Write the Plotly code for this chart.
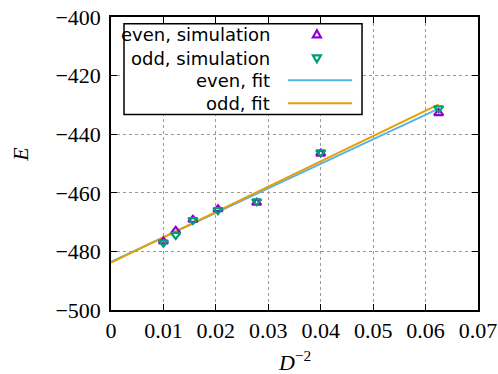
import plotly.graph_objects as go

# Data
x_sim = [0.01, 0.012346, 0.015625, 0.020408, 0.027778, 0.04, 0.0625]
even_sim = [-476.6, -473.0, -469.2, -465.6, -463.4, -446.6, -432.8]
odd_sim = [-477.0, -474.4, -469.3, -465.9, -462.9, -446.2, -431.2]
fit_x = [0.0, 0.0625]
even_fit = [-483.6, -431.3]
odd_fit = [-483.8, -429.8]
x_ticks = [0, 0.01, 0.02, 0.03, 0.04, 0.05, 0.06, 0.07]
x_tick_text = ["0", "0.01", "0.02", "0.03", "0.04", "0.05", "0.06", "0.07"]
y_ticks = [-500, -480, -460, -440, -420, -400]
y_tick_text = ["\u2212500", "\u2212480", "\u2212460", "\u2212440", "\u2212420", "\u2212400"]
legend_labels = ["even, simulation", "odd, simulation", "even, fit", "odd, fit"]

C_EVEN = "#9400D3"
C_ODD = "#009E73"
C_EFIT = "#56B4E9"
C_OFIT = "#E69F00"

MSIZE = 8
fig = go.Figure()
fig.add_trace(go.Scatter(x=fit_x, y=even_fit, mode="lines", line=dict(color=C_EFIT, width=2)))
fig.add_trace(go.Scatter(x=fit_x, y=odd_fit, mode="lines", line=dict(color=C_OFIT, width=2)))
fig.add_trace(go.Scatter(x=x_sim, y=even_sim, mode="markers",
                         marker=dict(symbol="triangle-up-open", size=MSIZE, color=C_EVEN, line=dict(width=2.2, color=C_EVEN))))
fig.add_trace(go.Scatter(x=x_sim, y=odd_sim, mode="markers",
                         marker=dict(symbol="triangle-down-open", size=MSIZE, color=C_ODD, line=dict(width=2.2, color=C_ODD))))

# custom gnuplot-style legend (shapes above the grid)
row_y = [0.941, 0.859, 0.784, 0.706]
fig.add_shape(type="rect", xref="x domain", yref="y domain", x0=0.0354, x1=0.684, y0=0.667, y1=0.977,
              line=dict(color="black", width=1.5), fillcolor="white", layer="above")
fig.add_shape(type="path", xref="x domain", yref="y domain", xsizemode="pixel", ysizemode="pixel",
              xanchor=0.561, yanchor=row_y[0], path="M -4 -3 L 4 -3 L 0 4 Z",
              line=dict(color=C_EVEN, width=2.2), fillcolor="rgba(0,0,0,0)", layer="above")
fig.add_shape(type="path", xref="x domain", yref="y domain", xsizemode="pixel", ysizemode="pixel",
              xanchor=0.561, yanchor=row_y[1], path="M -4 3 L 4 3 L 0 -4 Z",
              line=dict(color=C_ODD, width=2.2), fillcolor="rgba(0,0,0,0)", layer="above")
fig.add_shape(type="line", xref="x domain", yref="y domain", x0=0.482, x1=0.657, y0=row_y[2], y1=row_y[2],
              line=dict(color=C_EFIT, width=2), layer="above")
fig.add_shape(type="line", xref="x domain", yref="y domain", x0=0.482, x1=0.657, y0=row_y[3], y1=row_y[3],
              line=dict(color=C_OFIT, width=2), layer="above")

for lab, ry in zip(legend_labels, row_y):
    fig.add_annotation(text=lab, xref="x domain", yref="y domain", x=0.439, y=ry,
                       xanchor="right", yanchor="middle", showarrow=False,
                       font=dict(family="DejaVu Sans", size=18, color="black"))

# axis titles as annotations
fig.add_annotation(text="<i>E</i>", xref="paper", yref="y domain", x=-0.245, y=0.53,
                   xanchor="center", yanchor="middle", textangle=-90, showarrow=False,
                   font=dict(family="Liberation Serif", size=22, color="black"))
fig.add_annotation(text="<i>D</i><sup>\u22122</sup>", xref="x domain", yref="paper", x=0.5, y=-0.175,
                   xanchor="center", yanchor="middle", showarrow=False,
                   font=dict(family="Liberation Serif", size=22, color="black"))

axis_common = dict(showline=True, linecolor="black", linewidth=1.5, mirror="allticks",
                   ticks="inside", ticklen=6, tickcolor="black", tickwidth=1,
                   showgrid=True, gridcolor="#999999", griddash="dot", gridwidth=1,
                   zeroline=False, automargin=False,
                   tickfont=dict(family="Liberation Serif", size=22, color="black"))

fig.update_layout(
    width=498, height=374,
    margin=dict(l=111, r=20, t=17, b=64),
    paper_bgcolor="white", plot_bgcolor="white",
    showlegend=False,
    xaxis=dict(range=[0, 0.07], tickvals=x_ticks, ticktext=x_tick_text, **axis_common),
    yaxis=dict(range=[-500, -400], tickvals=y_ticks, ticktext=y_tick_text,
               ticklabelstandoff=4, **axis_common),
)

fig.write_html("out.html")
